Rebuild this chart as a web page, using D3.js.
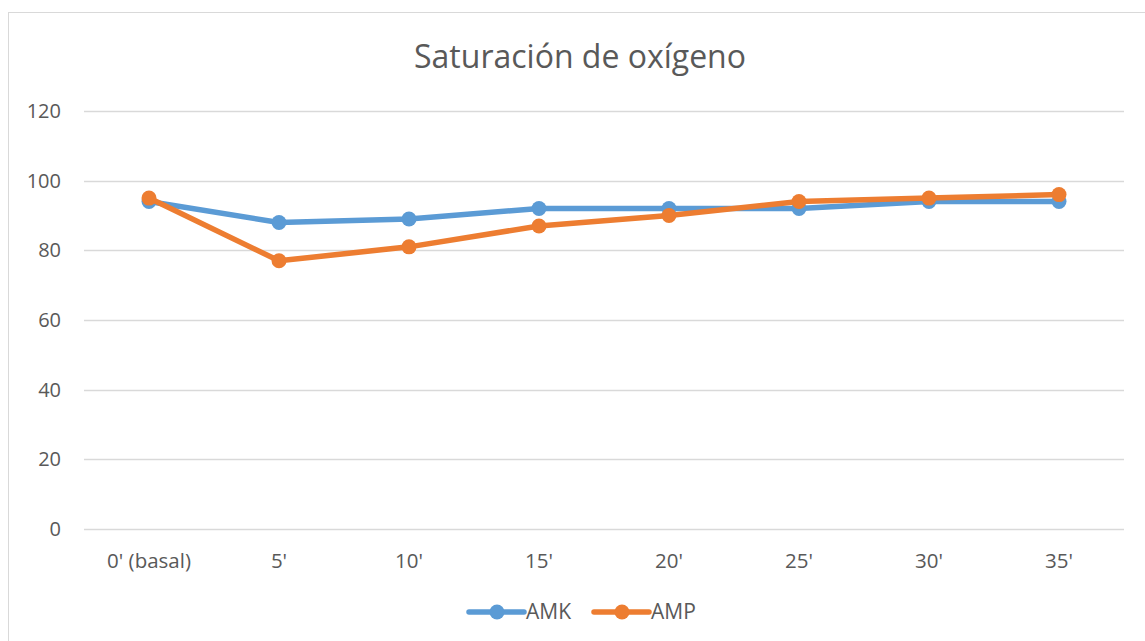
<!DOCTYPE html>
<html><head><meta charset="utf-8">
<script src="https://cdn.jsdelivr.net/npm/d3@7"></script>
<style>body{margin:0;background:#fff}svg{display:block}</style>
</head><body>
<svg id="c" width="1145" height="641"></svg>
<script>
const categories = ["0' (basal)", "5'", "10'", "15'", "20'", "25'", "30'", "35'"];
const amk = [94, 88, 89, 92, 92, 92, 94, 94];
const amp = [95, 77, 81, 87, 90, 94, 95, 96];
const yTicks = [0, 20, 40, 60, 80, 100, 120];
const seriesNames = ["AMK", "AMP"];
const colors = ["#5B9BD5", "#ED7D31"];

const svg = d3.select("#c");
const font = "'Open Sans', Lato, sans-serif";
svg.append("rect").attr("x", 8.5).attr("y", 12.5).attr("width", 1145).attr("height", 640)
  .attr("fill", "#fff").attr("stroke", "#D9D9D9");

const x = d3.scaleBand().domain(categories).range([84, 1124]);
const y = d3.scaleLinear().domain([0, 120]).range([529, 111]);

const g = svg.append("g");
g.selectAll("line.grid").data(yTicks).join("line")
  .attr("x1", 84).attr("x2", 1124)
  .attr("y1", d => Math.round(y(d)) + 0.5).attr("y2", d => Math.round(y(d)) + 0.5)
  .attr("stroke", "#D9D9D9").attr("stroke-width", 1.3);

g.selectAll("text.yt").data(yTicks).join("text")
  .attr("x", 61).attr("y", d => y(d)).attr("dy", "0.35em")
  .attr("text-anchor", "end").attr("font-family", font).attr("font-size", 20)
  .attr("fill", "#595959").text(d => d);

g.selectAll("text.xt").data(categories).join("text")
  .attr("x", d => x(d) + x.bandwidth() / 2).attr("y", 561)
  .attr("dy", "0.35em")
  .attr("text-anchor", "middle").attr("font-family", font).attr("font-size", 20.5)
  .attr("fill", "#595959").text(d => d);

svg.append("text").attr("x", 580).attr("y", 57).attr("dy", "0.35em")
  .attr("text-anchor", "middle").attr("font-family", font).attr("font-size", 32)
  .attr("fill", "#595959").text("Saturación de oxígeno");

const data = [amk, amp];
const line = d3.line().x((d, i) => x(categories[i]) + x.bandwidth() / 2).y(d => y(d));
data.forEach((s, k) => {
  svg.append("path").datum(s).attr("d", line).attr("fill", "none")
    .attr("stroke", colors[k]).attr("stroke-width", 5.5).attr("stroke-linejoin", "round")
    .attr("stroke-linecap", "round");
  svg.selectAll("circle.s" + k).data(s).join("circle")
    .attr("cx", (d, i) => x(categories[i]) + x.bandwidth() / 2).attr("cy", d => y(d))
    .attr("r", 7.5).attr("fill", colors[k]);
});

const legX = [469, 594];
seriesNames.forEach((n, k) => {
  const lg = svg.append("g");
  lg.append("line").attr("x1", legX[k]).attr("x2", legX[k] + 55).attr("y1", 612).attr("y2", 612)
    .attr("stroke", colors[k]).attr("stroke-width", 5.5).attr("stroke-linecap", "round");
  lg.append("circle").attr("cx", legX[k] + 28).attr("cy", 612).attr("r", 7.5).attr("fill", colors[k]);
  lg.append("text").attr("x", legX[k] + 57).attr("y", 612).attr("dy", "0.35em")
    .attr("font-family", font).attr("font-size", 21).attr("fill", "#595959").text(n);
});
</script>
</body></html>
